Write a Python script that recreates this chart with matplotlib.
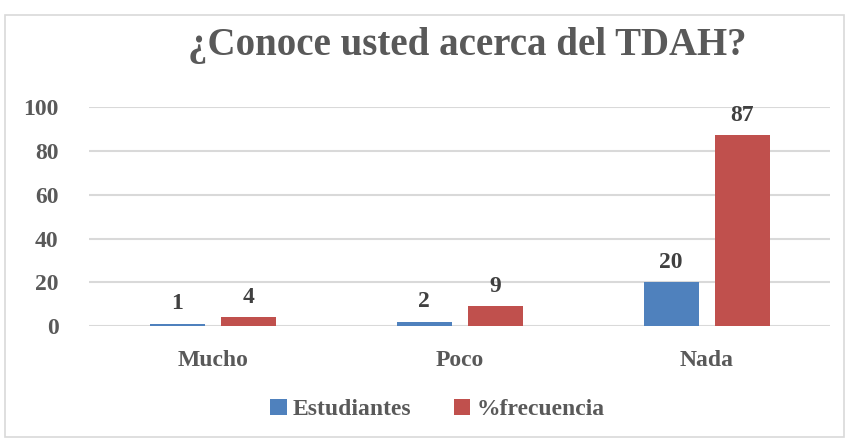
import matplotlib.pyplot as plt
import numpy as np
from matplotlib.patches import Rectangle

# data
categories = ['Mucho', 'Poco', 'Nada']
estudiantes = [1, 2, 20]
frecuencia = [4, 9, 87]
series_names = ['Estudiantes', '%frecuencia']
yticks = [0, 20, 40, 60, 80, 100]

plt.rcParams['font.family'] = ['Liberation Serif', 'DejaVu Serif']
plt.rcParams['font.weight'] = 'bold'

text_color = '#595959'
label_color = '#404040'
colors = ['#4F81BD', '#C0504D']

fig = plt.figure(figsize=(8.49, 4.42), dpi=100)
ax = fig.add_axes([0.105, 0.262, 0.873, 0.496])

x = np.arange(len(categories))
width = 0.223
offset = 0.144

bars1 = ax.bar(x - offset, estudiantes, width, color=colors[0], label=series_names[0])
bars2 = ax.bar(x + offset, frecuencia, width, color=colors[1], label=series_names[1])

for bars in (bars1, bars2):
    for b in bars:
        ax.annotate(f'{int(b.get_height())}',
                    (b.get_x() + b.get_width() / 2, b.get_height()),
                    xytext=(0, 7), textcoords='offset points',
                    ha='center', va='bottom', fontsize=17,
                    fontweight='bold', color=label_color)

ax.set_xlim(-0.5, len(categories) - 0.5)
ax.set_ylim(0, 100)
ax.set_yticks(yticks)
ax.set_xticks(x)
ax.set_xticklabels(categories)
ax.tick_params(axis='both', length=0, labelsize=17, colors=text_color)
ax.tick_params(axis='x', pad=17)
ax.tick_params(axis='y', pad=22)
ax.grid(axis='y', color='#D9D9D9', linewidth=1.5)
ax.set_axisbelow(True)
for s in ax.spines.values():
    s.set_visible(False)

fig.text(0.55, 0.898, '¿Conoce usted acerca del TDAH?', ha='center', va='center',
         fontsize=28, fontweight='bold', color=text_color)

leg = fig.legend(loc='center', bbox_to_anchor=(0.515, 0.073), ncol=2, frameon=False,
                 fontsize=17, handlelength=0.7, handleheight=0.7,
                 handletextpad=0.25, columnspacing=1.8)
for t in leg.get_texts():
    t.set_color(text_color)

fig.patches.append(Rectangle((0.006, 0.012), 0.988, 0.955, transform=fig.transFigure,
                             fill=False, edgecolor='#D9D9D9', linewidth=1.2))

fig.savefig('out.png', dpi=100)
